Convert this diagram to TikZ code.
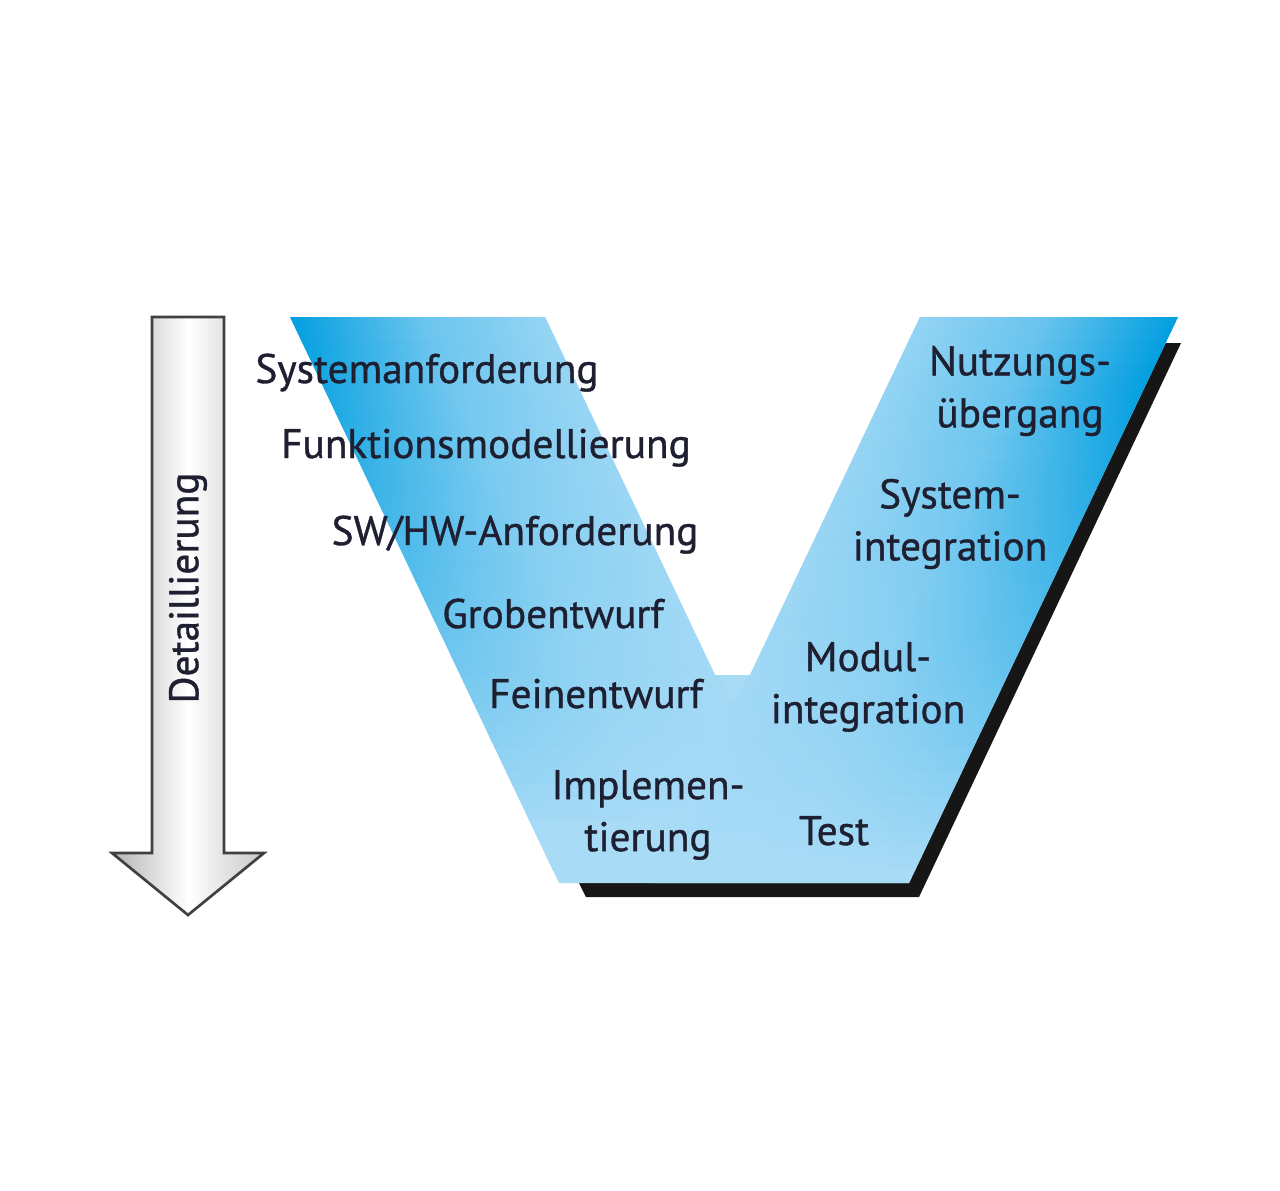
\documentclass[tikz,border=0pt]{standalone}
\usepackage{fontspec}
\setmainfont{PT Sans}
\newfontfamily\vfont{PT Sans}[FakeBold=0.9]
\definecolor{vdark}{RGB}{0,158,224}
\definecolor{vlight}{RGB}{168,219,246}
\definecolor{vtext}{RGB}{30,32,50}
\definecolor{vshadow}{RGB}{22,22,22}
\tikzset{every picture/.style={line width=0.75pt}}
\tikzset{vlabel/.style={inner sep=0.75pt, text=vtext, font=\vfont\fontsize{31}{39}\selectfont, align=center}}

\begin{document}
\begin{tikzpicture}[x=0.75pt,y=0.75pt,yscale=-1,xscale=1]
	\useasboundingbox (0,0) rectangle (1280,1190);
	
	%Shape: Polygon [shadow] 
	\fill [vshadow] (1166,343) -- (1181,343) -- (919,897) -- (586,897) -- (579,883) -- cycle ;
	
	%Shape: Polygon [V] 
	\begin{scope}
	\clip (290,317) -- (545,317) -- (715,675) -- (750,675) -- (920,317) -- (1178,317) -- (909,883) -- (559,883) -- cycle ;
	\fill [vlight] (280,310) rectangle (1190,890) ;
	%left arm
	\foreach \i in {0,...,45} {
		\pgfmathsetmacro{\ya}{317+12*\i}
		\pgfmathsetmacro{\yb}{\ya+13}
		\pgfmathtruncatemacro{\pleft}{max(0,min(100,(830-\ya)/5.13))}
		\pgfmathtruncatemacro{\pmid}{0.38*\pleft}
		\pgfmathtruncatemacro{\pright}{0.1*\pleft}
		\shade [left color=vdark!\pleft!vlight, right color=vdark!\pright!vlight, middle color=vdark!\pmid!vlight] ({290+0.475*(\ya-317)},\ya) -- ({550+0.475*(\ya-317)},\ya) -- ({550+0.475*(\yb-317)},\yb) -- ({290+0.475*(\yb-317)},\yb) -- cycle ;
	}
	%right arm
	\foreach \i in {0,...,47} {
		\pgfmathsetmacro{\ya}{317+12*\i}
		\pgfmathsetmacro{\yb}{\ya+13}
		\pgfmathtruncatemacro{\qright}{max(0,min(100,(870-\ya)/4.9))}
		\pgfmathtruncatemacro{\qmid}{0.4*\qright}
		\pgfmathtruncatemacro{\qleft}{0.12*\qright}
		\shade [left color=vdark!\qleft!vlight, right color=vdark!\qright!vlight, middle color=vdark!\qmid!vlight] ({918-0.475*(\ya-317)},\ya) -- ({1178-0.475*(\ya-317)},\ya) -- ({1178-0.475*(\yb-317)},\yb) -- ({918-0.475*(\yb-317)},\yb) -- cycle ;
	}
	\end{scope}
	
	%Shape: Down Arrow [id:detail arrow] 
	\shadedraw [draw=black!75, line width=2pt, left color=black!30, right color=black!22, middle color=white] (152,317) -- (224,317) -- (224,853) -- (264,853) -- (188,915) -- (112,853) -- (152,853) -- cycle ;
	
	% Text Node
	\draw (188,588) node [vlabel, rotate=90] (detail) {Detaillierung};
	% Text Node
	\draw (427,383) node [vlabel, anchor=base] (sysanf) {Systemanforderung};
	% Text Node
	\draw (486,458) node [vlabel, anchor=base] (funkmod) {Funktionsmodellierung};
	% Text Node
	\draw (515,545) node [vlabel, anchor=base] (swhw) {SW/HW-Anforderung};
	% Text Node
	\draw (553,628) node [vlabel, anchor=base] (grob) {Grobentwurf};
	% Text Node
	\draw (596,708) node [vlabel, anchor=base] (fein) {Feinentwurf};
	% Text Node
	\draw (648,815) node [vlabel] (impl) {Implemen-\\tierung};
	% Text Node
	\draw (834,845) node [vlabel, anchor=base] (test) {Test};
	% Text Node
	\draw (868,687) node [vlabel] (modint) {Modul-\\integration};
	% Text Node
	\draw (950,524) node [vlabel] (sysint) {System-\\integration};
	% Text Node
	\draw (1020,391) node [vlabel] (nutz) {Nutzungs-\\übergang};
	
\end{tikzpicture}
\end{document}
